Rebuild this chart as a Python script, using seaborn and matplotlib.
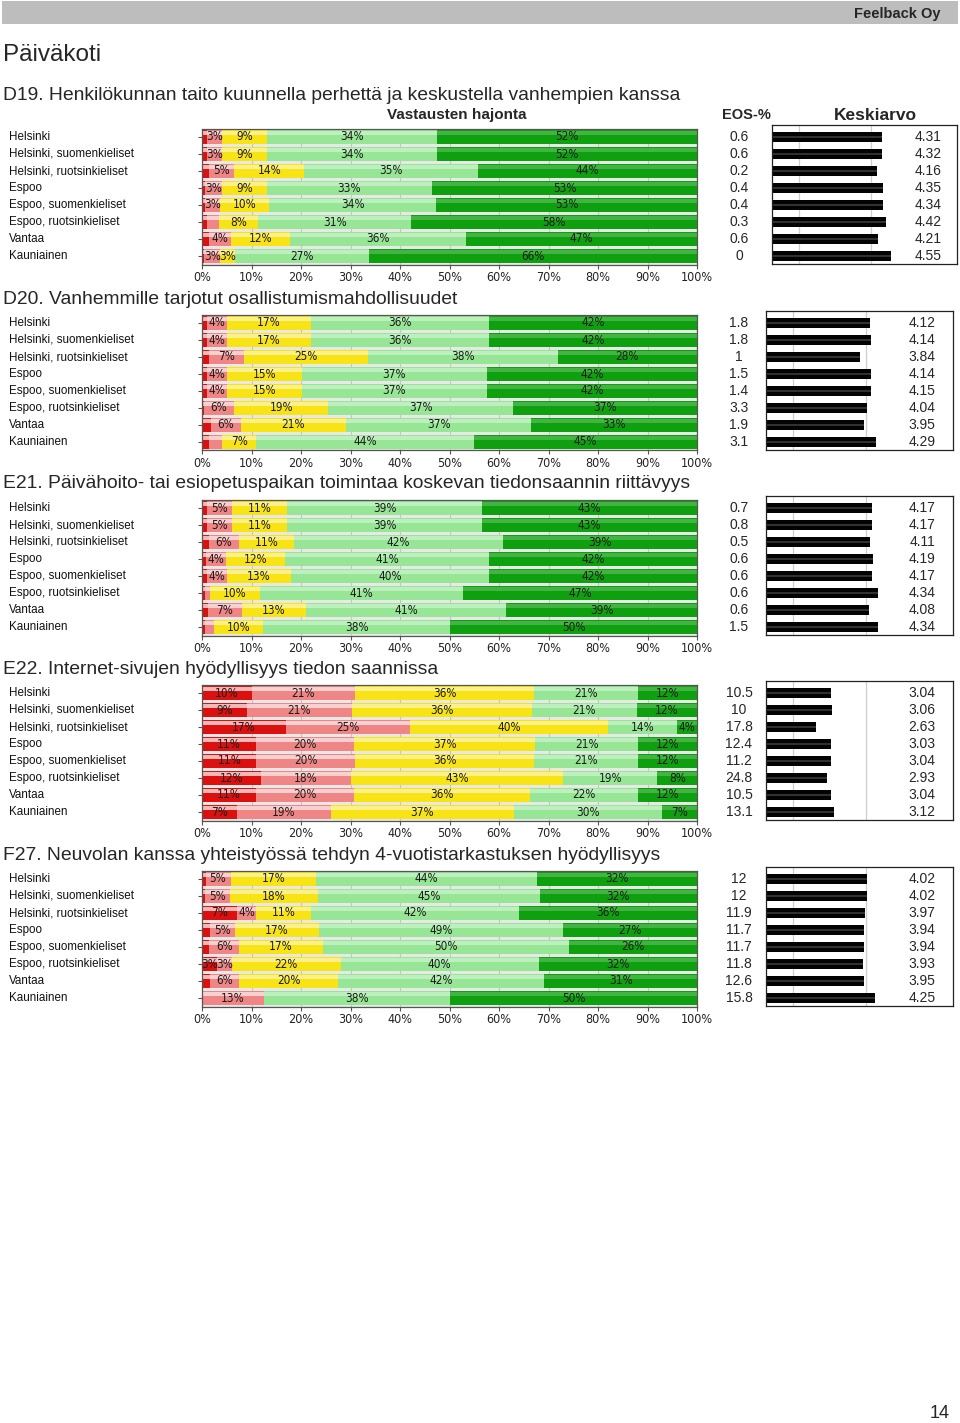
import numpy as np
import matplotlib
matplotlib.use("Agg")
import matplotlib.pyplot as plt
from matplotlib.patches import Rectangle
from matplotlib import font_manager
import seaborn as sns

sns.set_theme(style="white")
plt.rcParams["font.family"] = ["Liberation Sans", "DejaVu Sans"]

_names = {f.name for f in font_manager.fontManager.ttflist}
if "Liberation Sans Narrow" in _names:
    NARROW = dict(family="Liberation Sans Narrow")
else:
    NARROW = dict(family="DejaVu Sans", stretch="condensed")

# ---------------- data ----------------
categories = ["Helsinki", "Helsinki, suomenkieliset", "Helsinki, ruotsinkieliset",
              "Espoo", "Espoo, suomenkieliset", "Espoo, ruotsinkieliset",
              "Vantaa", "Kauniainen"]

titles = ["D19. Henkilökunnan taito kuunnella perhettä ja keskustella vanhempien kanssa",
          "D20. Vanhemmille tarjotut osallistumismahdollisuudet",
          "E21. Päivähoito- tai esiopetuspaikan toimintaa koskevan tiedonsaannin riittävyys",
          "E22. Internet-sivujen hyödyllisyys tiedon saannissa",
          "F27. Neuvolan kanssa yhteistyössä tehdyn 4-vuotistarkastuksen hyödyllisyys"]

pct_ticks = [0, 10, 20, 30, 40, 50, 60, 70, 80, 90, 100]

d19_dark_red = [1, 1, 1.5, 0.6, 0.6, 1, 1.5, 0.4]
d19_pink = [3, 3, 5, 3.4, 3, 2.4, 4.4, 3.3]
d19_yellow = [9, 9, 14, 9, 10, 8, 12, 3]
d19_light_green = [34, 34, 35, 33, 34, 31, 36, 27]
d19_dark_green = [52, 52, 44, 53, 53, 58, 47, 66]
d19_eos = [0.6, 0.6, 0.2, 0.4, 0.4, 0.3, 0.6, 0]
d19_mean = [4.31, 4.32, 4.16, 4.35, 4.34, 4.42, 4.21, 4.55]

d20_dark_red = [1, 1, 1.4, 1, 1, 0.4, 1.7, 1.5]
d20_pink = [4, 4, 7, 4, 4, 6, 6, 2.5]
d20_yellow = [17, 17, 25, 15, 15, 19, 21, 7]
d20_light_green = [36, 36, 38, 37, 37, 37, 37, 44]
d20_dark_green = [42, 42, 28, 42, 42, 37, 33, 45]
d20_eos = [1.8, 1.8, 1, 1.5, 1.4, 3.3, 1.9, 3.1]
d20_mean = [4.12, 4.14, 3.84, 4.14, 4.15, 4.04, 3.95, 4.29]

e21_dark_red = [1, 1, 1.4, 0.8, 1, 0.6, 1.2, 0.6]
e21_pink = [5, 5, 6, 4, 4, 1, 7, 1.8]
e21_yellow = [11, 11, 11, 12, 13, 10, 13, 10]
e21_light_green = [39, 39, 42, 41, 40, 41, 41, 38]
e21_dark_green = [43, 43, 39, 42, 42, 47, 39, 50]
e21_eos = [0.7, 0.8, 0.5, 0.6, 0.6, 0.6, 0.6, 1.5]
e21_mean = [4.17, 4.17, 4.11, 4.19, 4.17, 4.34, 4.08, 4.34]

e22_dark_red = [10, 9, 17, 11, 11, 12, 11, 7]
e22_pink = [21, 21, 25, 20, 20, 18, 20, 19]
e22_yellow = [36, 36, 40, 37, 36, 43, 36, 37]
e22_light_green = [21, 21, 14, 21, 21, 19, 22, 30]
e22_dark_green = [12, 12, 4, 12, 12, 8, 12, 7]
e22_eos = [10.5, 10, 17.8, 12.4, 11.2, 24.8, 10.5, 13.1]
e22_mean = [3.04, 3.06, 2.63, 3.03, 3.04, 2.93, 3.04, 3.12]

f27_dark_red = [0.7, 0.6, 7, 1.6, 1.5, 3, 1.6, 0]
f27_pink = [5, 5, 4, 5, 6, 3, 6, 12.6]
f27_yellow = [17, 18, 11, 17, 17, 22, 20, 0]
f27_light_green = [44, 45, 42, 49, 50, 40, 42, 37.6]
f27_dark_green = [32, 32, 36, 27, 26, 32, 31, 50]
f27_eos = [12, 12, 11.9, 11.7, 11.7, 11.8, 12.6, 15.8]
f27_mean = [4.02, 4.02, 3.97, 3.94, 3.94, 3.93, 3.95, 4.25]

sections = [
    (d19_dark_red, d19_pink, d19_yellow, d19_light_green, d19_dark_green, d19_eos, d19_mean),
    (d20_dark_red, d20_pink, d20_yellow, d20_light_green, d20_dark_green, d20_eos, d20_mean),
    (e21_dark_red, e21_pink, e21_yellow, e21_light_green, e21_dark_green, e21_eos, e21_mean),
    (e22_dark_red, e22_pink, e22_yellow, e22_light_green, e22_dark_green, e22_eos, e22_mean),
    (f27_dark_red, f27_pink, f27_yellow, f27_light_green, f27_dark_green, f27_eos, f27_mean),
]

level_colors = ["#dd1010", "#ef8585", "#f8e414", "#96e696", "#0fa00f"]

# ---------------- layout ----------------
W, H = 960, 1423
fig = plt.figure(figsize=(W / 100, H / 100), dpi=100)
fig.patch.set_facecolor("white")


def add_ax(x0, y0, x1, y1):
    return fig.add_axes([x0 / W, 1 - y1 / H, (x1 - x0) / W, (y1 - y0) / H])


def ftext(x, y, s, **kw):
    fig.text(x / W, 1 - y / H, s, **kw)


def gloss(ax, color, alpha, frac_y0, frac_h):
    # add a highlight stripe on each bar drawn by seaborn (style only)
    for p in list(ax.patches):
        x, y = p.get_x(), p.get_y()
        w, h = p.get_width(), p.get_height()
        if w <= 0:
            continue
        ax.add_patch(Rectangle((x, y + h * frac_y0), w, h * frac_h, facecolor=color,
                               alpha=alpha, linewidth=0, zorder=p.get_zorder() + 0.1))


# header band
band = add_ax(2, 1, 958, 24)
band.set_facecolor("#bdbdbd")
band.set_xticks([]); band.set_yticks([])
for sp in band.spines.values():
    sp.set_visible(False)
ftext(940, 14, "Feelback Oy", ha="right", va="center", fontsize=10.5, fontweight="bold")
ftext(3, 55, "Päiväkoti", ha="left", va="center", fontsize=17.5)
ftext(457, 115, "Vastausten hajonta", ha="center", va="center", fontsize=11, fontweight="bold")
ftext(746, 115, "EOS-%", ha="center", va="center", fontsize=10.5, fontweight="bold")
ftext(875, 115, "Keskiarvo", ha="center", va="center", fontsize=12.5, fontweight="bold")
ftext(940, 1413, "14", ha="center", va="center", fontsize=13)

first_rows = [137, 323, 508, 693, 879]
title_ys = [95, 299, 484, 669, 855]
ROW = 17

for k, sec in enumerate(sections):
    levels = sec[:5]
    eos, mean = sec[5], sec[6]
    r0 = first_rows[k]
    ftext(3, title_ys[k], titles[k], ha="left", va="center", fontsize=13.9)

    # ----- stacked distribution bars -----
    ax = add_ax(202, r0 - ROW / 2, 697, r0 + 7 * ROW + ROW / 2)
    arr = np.array(levels, dtype=float)
    totals = arr.sum(axis=0)
    cums = np.cumsum(arr, axis=0) / totals * 100
    for lvl in range(4, -1, -1):
        sns.barplot(x=cums[lvl], y=categories, orient="h", color=level_colors[lvl],
                    width=0.78, saturation=1, errorbar=None, ax=ax, linewidth=0)
    gloss(ax, "white", 0.22, 0.08, 0.3)
    ax.set_facecolor("#e8e8e8")
    ax.set_xlim(0, 100)
    ax.set_ylim(7.5, -0.5)
    ax.set_axisbelow(True)
    ax.xaxis.grid(True, color="#c4c4c4", linewidth=0.8)
    ax.yaxis.grid(False)
    ax.set_xticks(pct_ticks)
    ax.set_xticklabels([f"{t}%" for t in pct_ticks], fontsize=9, color="#222222", **NARROW)
    ax.set_yticks(range(8))
    ax.set_yticklabels([])
    ax.set_xlabel(""); ax.set_ylabel("")
    ax.tick_params(axis="x", length=3, width=0.8, color="#555555", pad=2, bottom=True)
    ax.tick_params(axis="y", length=3, width=0.8, color="#555555", left=True)
    for sp in ax.spines.values():
        sp.set_color("#555555"); sp.set_linewidth(0.9)
    for i in range(8):
        start = 0.0
        for lvl in range(5):
            v = levels[lvl][i]
            w = v / totals[i] * 100
            if v >= 3:
                ax.text(start + w / 2, i, f"{round(v)}%", ha="center", va="center",
                        fontsize=8.5, color="#1a1a1a", zorder=5, **NARROW)
            start += w
        ftext(9, r0 + i * ROW, categories[i], ha="left", va="center",
              fontsize=8.4, color="#111111", family="Liberation Sans")

    # ----- EOS column -----
    for i in range(8):
        ftext(739, r0 + i * ROW, f"{eos[i]:g}", ha="center", va="center", fontsize=10)

    # ----- mean bars -----
    bx0, bx1, vx = (772, 957, 928) if k == 0 else (766, 953, 922)
    top, bot = r0 - 12, r0 + 7 * ROW + 8
    axm = add_ax(bx0, top, bx1, bot)
    sns.barplot(x=mean, y=categories, orient="h", color="#030303", width=0.62,
                saturation=1, errorbar=None, ax=axm, linewidth=0)
    gloss(axm, "#6a6a6a", 0.45, 0.38, 0.2)
    axm.set_xlim(1.25, 6.4)
    axm.set_ylim(7 + 8 / ROW, -12 / ROW)
    axm.set_axisbelow(True)
    for g in (2, 4):
        axm.axvline(g, color="#cfcfcf", linewidth=0.9, zorder=0)
    axm.set_xticks([]); axm.set_yticks([])
    axm.set_xlabel(""); axm.set_ylabel("")
    for sp in axm.spines.values():
        sp.set_color("#222222"); sp.set_linewidth(0.9)
    for i in range(8):
        ftext(vx, r0 + i * ROW, f"{mean[i]:.2f}", ha="center", va="center", fontsize=10)

fig.savefig("out.png", dpi=100, facecolor="white")
